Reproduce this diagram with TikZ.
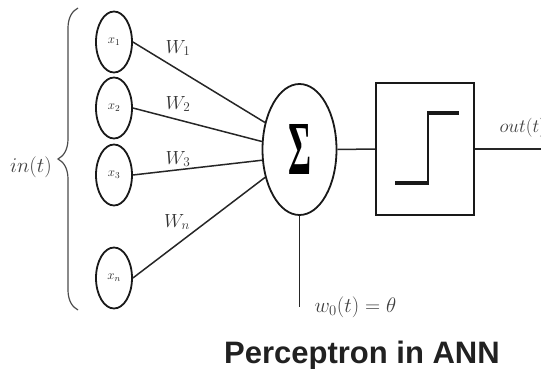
\RequirePackage{fix-cm}
\documentclass[tikz,border=0pt]{standalone}
\usepackage{graphicx}
\usepackage{fontspec}
\newfontfamily\titlefont{Liberation Sans}
\newfontfamily\sigfont{Liberation Serif}
\usetikzlibrary{shapes.geometric,decorations.pathreplacing}
\begin{document}
\begin{tikzpicture}[x=1pt,y=-1pt,
  inp/.style={ellipse, draw=black!90, line width=1.8pt, minimum width=36pt, minimum height=61pt, inner sep=0pt, font=\fontsize{13}{13}\selectfont, text=black!85},
  sumnode/.style={ellipse, draw=black!90, line width=1.8pt, minimum width=74pt, minimum height=131pt, inner sep=0pt},
  actbox/.style={rectangle, draw=black!90, line width=2pt, minimum width=98pt, minimum height=132pt, inner sep=0pt},
  conn/.style={draw=black!85, line width=1.5pt},
  wlab/.style={font=\fontsize{19}{19}\selectfont, text=black!80},
  mlab/.style={font=\fontsize{21}{21}\selectfont, text=black!75},
  stepthick/.style={draw=black!90, line width=3.8pt},
  stepthin/.style={draw=black!90, line width=2.2pt}
]
\useasboundingbox (0,0) rectangle (541,369);
% inputs
\node[inp] (x1) at (114,42) {$x_1$};
\node[inp] (x2) at (114,108) {$x_2$};
\node[inp] (x3) at (114,175) {$x_3$};
\node[inp] (xn) at (114,278) {$x_n$};
% summation and activation
\node[sumnode] (sum) at (299.5,149.5) {\resizebox{23pt}{50pt}{\sigfont\bfseries Σ}};
\node[actbox] (act) at (425,149) {};
\coordinate (outend) at (541,149);
\coordinate (biasend) at (299.5,307);
% weighted connectors
\draw[conn] (x1.east) -- (sum.142);
\draw[conn] (x2.east) -- (sum.168);
\draw[conn] (x3.east) -- (sum.196);
\draw[conn] (xn.east) -- (sum.219);
\node[wlab] (w1) at (178,48) {$W_1$};
\node[wlab] (w2) at (178,104) {$W_2$};
\node[wlab] (w3) at (178,159) {$W_3$};
\node[wlab] (wn) at (177,222) {$W_n$};
% other connectors
\draw[conn] (sum.east) -- (act.west);
\draw[conn] (act.east) -- (outend);
\draw[conn] (sum.south) -- (biasend);
% step function
\draw[stepthick] (395,183) -- (429,183);
\draw[stepthick] (427,113) -- (459,113);
\draw[stepthin] (428,183) -- (428,113);
% brace
\draw[black!70, line width=1.2pt, decorate, decoration={brace, amplitude=20pt}] (78,310) -- (78,8);
% labels
\node[mlab, anchor=base] (inlab) at (31,172) {$in(t)$};
\node[mlab, anchor=base west, font=\fontsize{19}{19}\selectfont] (outlab) at (496,132) {$out(t)$};
\node[mlab, anchor=base west] (biaslab) at (311,312) {$w_0(t) = \theta$};
\node[font=\titlefont\bfseries\fontsize{31}{31}\selectfont, text=black!87, anchor=base] (title) at (362,363) {Perceptron in ANN};
\end{tikzpicture}
\end{document}
